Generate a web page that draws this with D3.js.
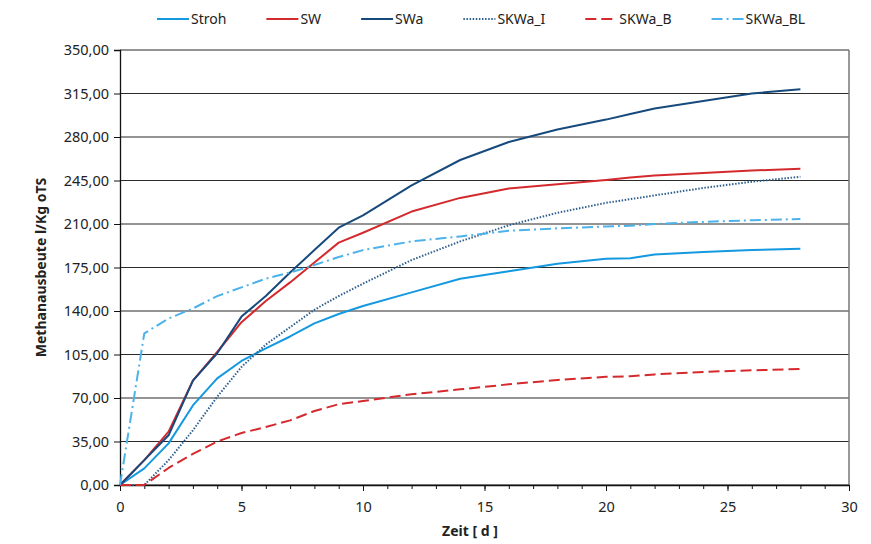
<!DOCTYPE html>
<html>
<head>
<meta charset="utf-8">
<script src="https://cdn.jsdelivr.net/npm/d3@7"></script>
<style>
  body { margin: 0; background: #fff; }
  text { font-family: "Noto Sans", sans-serif; }
</style>
</head>
<body>
<div id="chart"></div>
<script>
// days of measurement
var days = [0, 1, 2, 3, 4, 5, 6, 7, 8, 9, 10, 12, 14, 16, 18, 20, 21, 22, 24, 26, 28];

var stroh   = [0, 13.4, 33.5, 64, 85.8, 99.8, 110, 119.5, 130, 137.6, 144, 155, 166, 172, 178, 182, 182.5, 185.5, 187.5, 189, 190];
var sw      = [0, 20, 43, 84, 107, 131, 148, 163, 179, 195, 203, 220, 231, 238.5, 242, 245.5, 247.5, 249, 251, 253, 254.5];
var swa     = [0, 20, 40, 84, 106, 135.5, 152, 171, 189, 207, 217, 241, 261.5, 276, 286, 294, 298.5, 303, 309, 315, 318.5];
var skwaI   = [0, 0, 20, 44, 71, 95, 113, 127, 141, 152, 162, 181, 196, 209, 219, 227, 230, 233, 239, 244, 248];
var skwaB   = [0, 0, 13.7, 25, 35, 41.8, 46.7, 52, 59.5, 65, 67.6, 73, 77, 81, 84.5, 87, 87.5, 89, 91, 92.3, 93.3];
var skwaBL  = [0, 122, 134, 142, 152, 159, 166, 171, 177, 183.4, 189, 196, 200, 204.5, 206.5, 208, 208.6, 210, 211.7, 213, 214];

var seriesNames = ["Stroh", "SW", "SWa", "SKWa_I", "SKWa_B", "SKWa_BL"];
var seriesValues = [stroh, sw, swa, skwaI, skwaB, skwaBL];

var yTicks = [0, 35, 70, 105, 140, 175, 210, 245, 280, 315, 350];
var xTicks = [0, 5, 10, 15, 20, 25, 30];

var styles = {
  "Stroh":   {color: "#1499e0", dash: null, w: 2},
  "SW":      {color: "#d42a2e", dash: null, w: 2},
  "SWa":     {color: "#174a7c", dash: null, w: 2},
  "SKWa_I":  {color: "#2f5f8f", dash: "1.5,1.6", w: 2},
  "SKWa_B":  {color: "#d42a2e", dash: "11,5", w: 2},
  "SKWa_BL": {color: "#4cb2ea", dash: "11,4,2,4", w: 2}
};

var W = 871, H = 544;
var margin = {top: 50, right: 22, bottom: 59, left: 120};
var width = W - margin.left - margin.right,
    height = H - margin.top - margin.bottom;

var svg = d3.select("#chart").append("svg")
  .attr("width", W)
  .attr("height", H);

var g = svg.append("g")
  .attr("transform", "translate(" + margin.left + "," + margin.top + ")");

var x = d3.scaleLinear().domain([0, 30]).range([0, width]);
var y = d3.scaleLinear().domain([0, 350]).range([height, 0]);

// gridlines
g.selectAll(".grid")
  .data(yTicks)
  .enter().append("line")
  .attr("x1", 0).attr("x2", width)
  .attr("y1", function(d) { return y(d); })
  .attr("y2", function(d) { return y(d); })
  .attr("stroke", "#2b2b2b")
  .attr("stroke-width", 1.2);

// right border
g.append("line")
  .attr("x1", width).attr("x2", width)
  .attr("y1", 0).attr("y2", height)
  .attr("stroke", "#777").attr("stroke-width", 1.5);

// y axis
var yAxis = g.append("g")
  .call(d3.axisLeft(y).tickValues(yTicks).tickSize(6).tickPadding(5)
    .tickFormat(function(d) { return d3.format(".2f")(d).replace(".", ","); }));
yAxis.select(".domain").attr("stroke", "#111").attr("stroke-width", 1.3);
yAxis.selectAll("line").attr("stroke", "#111");
yAxis.selectAll("text").attr("font-size", "14.5px").attr("fill", "#222")
  .style("font-family", "'Noto Sans', sans-serif");

// x axis: minor ticks each day, labels every 5
var xMinor = g.append("g")
  .attr("transform", "translate(0," + height + ")")
  .call(d3.axisBottom(x).ticks(30).tickSize(4).tickFormat(""));
xMinor.select(".domain").remove();
xMinor.selectAll("line").attr("stroke", "#111");

var xAxis = g.append("g")
  .attr("transform", "translate(0," + height + ")")
  .call(d3.axisBottom(x).tickValues(xTicks).tickSize(6).tickPadding(11).tickSizeOuter(0));
xAxis.select(".domain").attr("stroke", "#111").attr("stroke-width", 1.3);
xAxis.selectAll("line").attr("stroke", "#111");
xAxis.selectAll("text").attr("font-size", "14.5px").attr("fill", "#222")
  .style("font-family", "'Noto Sans', sans-serif");

// lines
var line = d3.line()
  .x(function(d) { return x(d[0]); })
  .y(function(d) { return y(d[1]); });

seriesNames.forEach(function(name, i) {
  var pts = days.map(function(d, j) { return [d, seriesValues[i][j]]; });
  var s = styles[name];
  g.append("path")
    .datum(pts)
    .attr("d", line)
    .attr("fill", "none")
    .attr("stroke", s.color)
    .attr("stroke-width", s.w)
    .attr("stroke-dasharray", s.dash)
    .attr("stroke-linejoin", "round");
});

// axis titles
svg.append("text")
  .attr("x", margin.left + x(14.4)).attr("y", 536)
  .attr("text-anchor", "middle")
  .attr("font-size", "14px").attr("font-weight", "bold").attr("fill", "#222")
  .text("Zeit [ d ]");

svg.append("text")
  .attr("transform", "translate(46," + (margin.top + y(175)) + ") rotate(-90)")
  .attr("text-anchor", "middle")
  .attr("font-size", "14px").attr("font-weight", "bold").attr("fill", "#222")
  .text("Methanausbeute l/Kg oTS");

// legend
var legend = svg.append("g").attr("transform", "translate(157,19)");
var lx = 0;
seriesNames.forEach(function(name) {
  var s = styles[name];
  var item = legend.append("g").attr("transform", "translate(" + lx + ",0)");
  item.append("line")
    .attr("x1", 0).attr("x2", 32).attr("y1", 0).attr("y2", 0)
    .attr("stroke", s.color).attr("stroke-width", s.w)
    .attr("stroke-dasharray", s.dash);
  var t = item.append("text")
    .attr("x", 34).attr("y", 5)
    .attr("font-size", "14px").attr("fill", "#222")
    .text(name);
  lx += 34 + t.node().getComputedTextLength() + 40;
});
</script>
</body>
</html>
